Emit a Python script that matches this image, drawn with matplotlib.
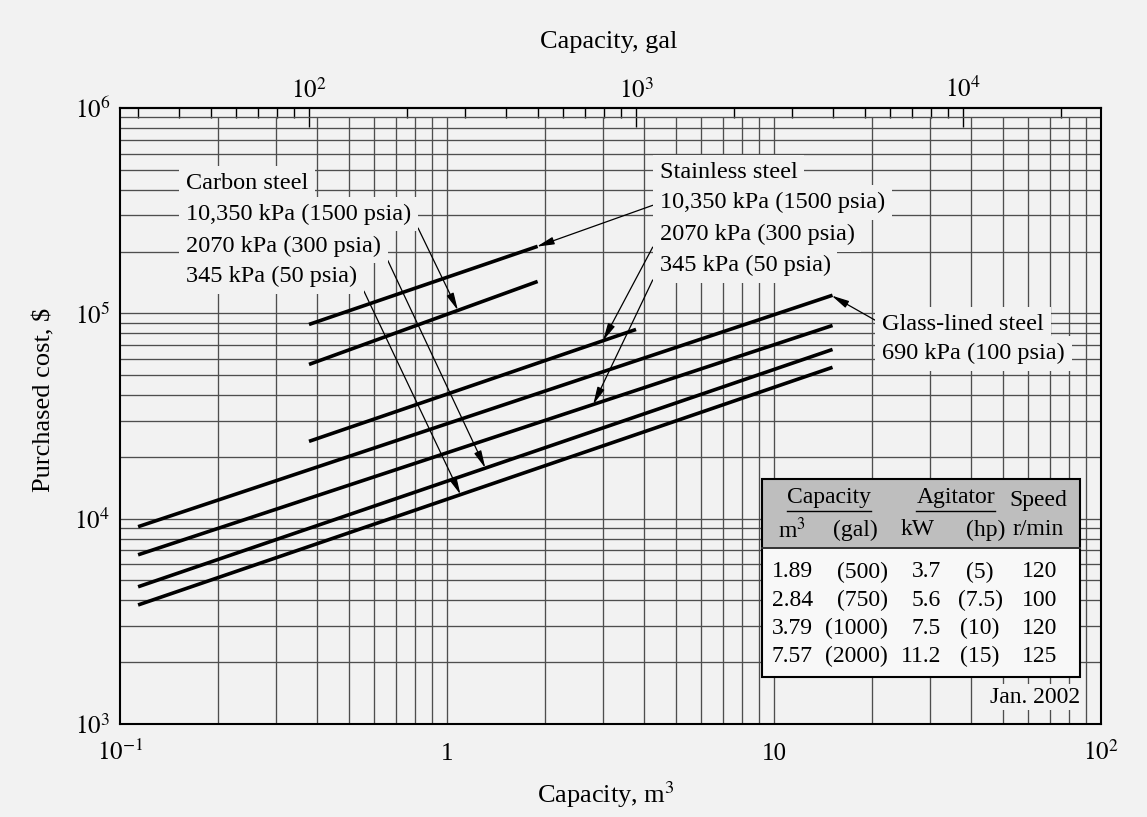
import numpy as np
import matplotlib
matplotlib.use("Agg")
import matplotlib.pyplot as plt
from matplotlib.patches import Rectangle
from matplotlib.lines import Line2D
from matplotlib.ticker import FixedLocator, FixedFormatter, NullLocator

plt.rcParams['font.family'] = ['Liberation Serif', 'DejaVu Serif']
plt.rcParams['mathtext.fontset'] = 'stix'

# cost lines: capacity (m3) and purchased cost ($) at both ends of each line
# order: glass 690, ss 345, cs 2070, cs 345, ss 10350, cs 10350, ss 2070
cap_lo = [0.1136, 0.1136, 0.1136, 0.1136, 0.3785, 0.3785, 0.3785]
cap_hi = [15.1, 15.1, 15.1, 15.1, 1.893, 1.893, 3.785]
cost_lo = [9140, 6670, 4660, 3800, 88300, 56400, 23800]
cost_hi = [122500, 87300, 66700, 54600, 212000, 143000, 83500]

# capacity where each label's arrow touches its line
arrow_cap = [15.0, 2.80, 1.31, 1.10, 1.88, 1.08, 3.0]

pressure_labels = ["10,350 kPa (1500 psia)", "2070 kPa (300 psia)", "345 kPa (50 psia)"]
carbon_lines = [5, 2, 3]
stainless_lines = [4, 6, 1]
glass_labels = ["Glass-lined steel", "690 kPa (100 psia)"]

x_ticks = [0.1, 1, 10, 100]
x_tick_labels = [r'$10^{-1}$', '1', '10', r'$10^{2}$']
y_ticks = [1e3, 1e4, 1e5, 1e6]
y_tick_labels = [r'$10^{3}$', r'$10^{4}$', r'$10^{5}$', r'$10^{6}$']
gal_ticks = [1e2, 1e3, 1e4]
gal_tick_labels = [r'$10^{2}$', r'$10^{3}$', r'$10^{4}$']
GAL_PER_M3 = 264.17

# agitated reactor table
tbl_m3 = ["1.89", "2.84", "3.79", "7.57"]
tbl_gal = ["(500)", "(750)", "(1000)", "(2000)"]
tbl_kw = ["3.7", "5.6", "7.5", "11.2"]
tbl_hp = ["(5)", "(7.5)", "(10)", "(15)"]
tbl_speed = ["120", "100", "120", "125"]

bg = '#f2f2f2'
grid_col = '#4e4e4e'

fig = plt.figure(figsize=(11.47, 8.17), dpi=100)
fig.patch.set_facecolor(bg)
ax = fig.add_axes([0.1046, 0.1138, 0.8553, 0.7540])
ax.set_facecolor(bg)
ax.set_xscale('log')
ax.set_yscale('log')
ax.set_xlim(0.1, 100)
ax.set_ylim(1e3, 1e6)

# log paper grid
grid_x = [m * 10.0**e for e in (-1, 0, 1) for m in range(1, 10)][1:]
grid_y = [m * 10.0**e for e in (3, 4, 5) for m in range(1, 10)][1:]
ax.vlines(grid_x, 1e3, 9e5, colors=grid_col, lw=0.95, zorder=1)
ax.hlines(grid_y, 0.1, 100, colors=grid_col, lw=0.95, zorder=1)

for s in ax.spines.values():
    s.set_linewidth(1.5)
    s.set_zorder(7)

ax.xaxis.set_major_locator(FixedLocator(x_ticks))
ax.xaxis.set_major_formatter(FixedFormatter(x_tick_labels))
ax.yaxis.set_major_locator(FixedLocator(y_ticks))
ax.yaxis.set_major_formatter(FixedFormatter(y_tick_labels))
ax.xaxis.set_minor_locator(NullLocator())
ax.yaxis.set_minor_locator(NullLocator())
ax.tick_params(axis='x', length=0, labelsize=18, pad=26)
ax.tick_params(axis='y', length=0, labelsize=18, pad=7)
for lbl in ax.get_xticklabels():
    lbl.set_va('baseline')

# gallons on the top axis
sec = ax.secondary_xaxis('top', functions=(lambda v: v * GAL_PER_M3,
                                           lambda v: v / GAL_PER_M3))
sec.xaxis.set_major_locator(FixedLocator(gal_ticks))
sec.xaxis.set_major_formatter(FixedFormatter(gal_tick_labels))
gal_minor = [m * 10.0**e for e in (1, 2, 3, 4) for m in range(2, 10)]
gal_minor = [g for g in gal_minor if 26.5 < g < 26400]
sec.xaxis.set_minor_locator(FixedLocator(gal_minor))
sec.xaxis.set_minor_formatter(FixedFormatter([''] * len(gal_minor)))
sec.tick_params(which='major', direction='in', length=14, width=1.0, pad=4, labelsize=18)
sec.tick_params(which='minor', direction='in', length=7, width=1.0)
sec.spines['top'].set_linewidth(1.5)

# cost lines
for i in range(len(cap_lo)):
    ax.plot([cap_lo[i], cap_hi[i]], [cost_lo[i], cost_hi[i]],
            color='black', lw=2.6, solid_capstyle='butt', zorder=4)


def cost_at(i, c):
    t = (np.log10(c) - np.log10(cap_lo[i])) / (np.log10(cap_hi[i]) - np.log10(cap_lo[i]))
    return 10 ** (np.log10(cost_lo[i]) + t * (np.log10(cost_hi[i]) - np.log10(cost_lo[i])))


box = dict(boxstyle='square,pad=0.28', fc=bg, ec='none')
arrow = dict(arrowstyle='-|>,head_length=0.6,head_width=0.13', lw=0.9,
             color='black', shrinkA=0, shrinkB=0)
fs = 17.5

# carbon steel labels
ax.text(0.0673, 0.878, "Carbon steel", transform=ax.transAxes, fontsize=fs,
        ha='left', va='center', bbox=box, zorder=3)
for lab, li, yy in zip(pressure_labels, carbon_lines, [0.828, 0.776, 0.726]):
    ax.annotate(lab, xy=(arrow_cap[li], cost_at(li, arrow_cap[li])),
                xytext=(0.0673, yy), textcoords='axes fraction', fontsize=fs,
                ha='left', va='center', bbox=box, zorder=3,
                arrowprops=dict(arrow, relpos=(1, 0.5)))

# stainless steel labels
ax.text(0.550, 0.896, "Stainless steel", transform=ax.transAxes, fontsize=fs,
        ha='left', va='center', bbox=box, zorder=3)
for lab, li, yy in zip(pressure_labels, stainless_lines, [0.846, 0.795, 0.744]):
    ax.annotate(lab, xy=(arrow_cap[li], cost_at(li, arrow_cap[li])),
                xytext=(0.550, yy), textcoords='axes fraction', fontsize=fs,
                ha='left', va='center', bbox=box, zorder=3,
                arrowprops=dict(arrow, relpos=(0, 0.5)))

# glass-lined labels
ax.annotate(glass_labels[0], xy=(arrow_cap[0], cost_at(0, arrow_cap[0])),
            xytext=(0.777, 0.649), textcoords='axes fraction', fontsize=fs,
            ha='left', va='center', bbox=box, zorder=3,
            arrowprops=dict(arrow, relpos=(0, 0.5)))
ax.text(0.777, 0.602, glass_labels[1], transform=ax.transAxes, fontsize=fs,
        ha='left', va='center', bbox=box, zorder=3)

# table box
t_l, t_r, t_top, t_mid, t_bot = 0.654, 0.979, 0.398, 0.286, 0.0763
ax.add_patch(Rectangle((t_l, t_bot), t_r - t_l, t_top - t_bot, transform=ax.transAxes,
                       fc='#f8f8f8', ec='none', zorder=5))
ax.add_patch(Rectangle((t_l, t_mid), t_r - t_l, t_top - t_mid, transform=ax.transAxes,
                       fc='#bebebe', ec='none', zorder=5))
ax.add_patch(Rectangle((t_l, t_bot), t_r - t_l, t_top - t_bot, transform=ax.transAxes,
                       fc='none', ec='black', lw=1.5, zorder=6))
ax.add_line(Line2D([t_l, t_r], [t_mid, t_mid], transform=ax.transAxes,
                   color='#333333', lw=1.4, zorder=6))

tfs = 17
tk = dict(transform=ax.transAxes, fontsize=tfs, zorder=6, va='center')
ax.text(0.7227, 0.3685, "Capacity", ha='center', **tk)
ax.text(0.852, 0.3685, "Agitator", ha='center', **tk)
ax.text(0.9358, 0.3636, "Speed", ha='center', **tk)
ax.add_line(Line2D([0.680, 0.7655], [0.3458, 0.3458], transform=ax.transAxes,
                   color='black', lw=1.0, zorder=6))
ax.add_line(Line2D([0.8114, 0.892], [0.3458, 0.3458], transform=ax.transAxes,
                   color='black', lw=1.0, zorder=6))
ax.text(0.685, 0.315, r"m$^3$", ha='center', **tk)
ax.text(0.750, 0.315, "(gal)", ha='center', **tk)
ax.text(0.8135, 0.315, "kW", ha='center', **tk)
ax.text(0.8828, 0.315, "(hp)", ha='center', **tk)
ax.text(0.9358, 0.315, "r/min", ha='center', **tk)

row_y = [0.2468, 0.2013, 0.1558, 0.1104]
for r, yy in enumerate(row_y):
    ax.text(0.6646, yy, tbl_m3[r], ha='left', **tk)
    ax.text(0.7829, yy, tbl_gal[r], ha='right', **tk)
    ax.text(0.8369, yy, tbl_kw[r], ha='right', **tk)
    ax.text(0.8767, yy, tbl_hp[r], ha='center', **tk)
    ax.text(0.955, yy, tbl_speed[r], ha='right', **tk)

ax.text(0.979, 0.0438, "Jan. 2002", transform=ax.transAxes, fontsize=tfs,
        ha='right', va='center', zorder=6,
        bbox=dict(boxstyle='square,pad=0.12', fc=bg, ec='none'))

# axis titles
fig.text(0.531, 0.949, "Capacity, gal", fontsize=19, ha='center', va='center')
fig.text(0.528, 0.027, r"Capacity, m$^3$", fontsize=19, ha='center', va='center')
fig.text(0.039, 0.510, "Purchased cost, $", fontsize=19, ha='center', va='center',
         rotation=90)

fig.savefig("out.png", dpi=100, facecolor=bg)
